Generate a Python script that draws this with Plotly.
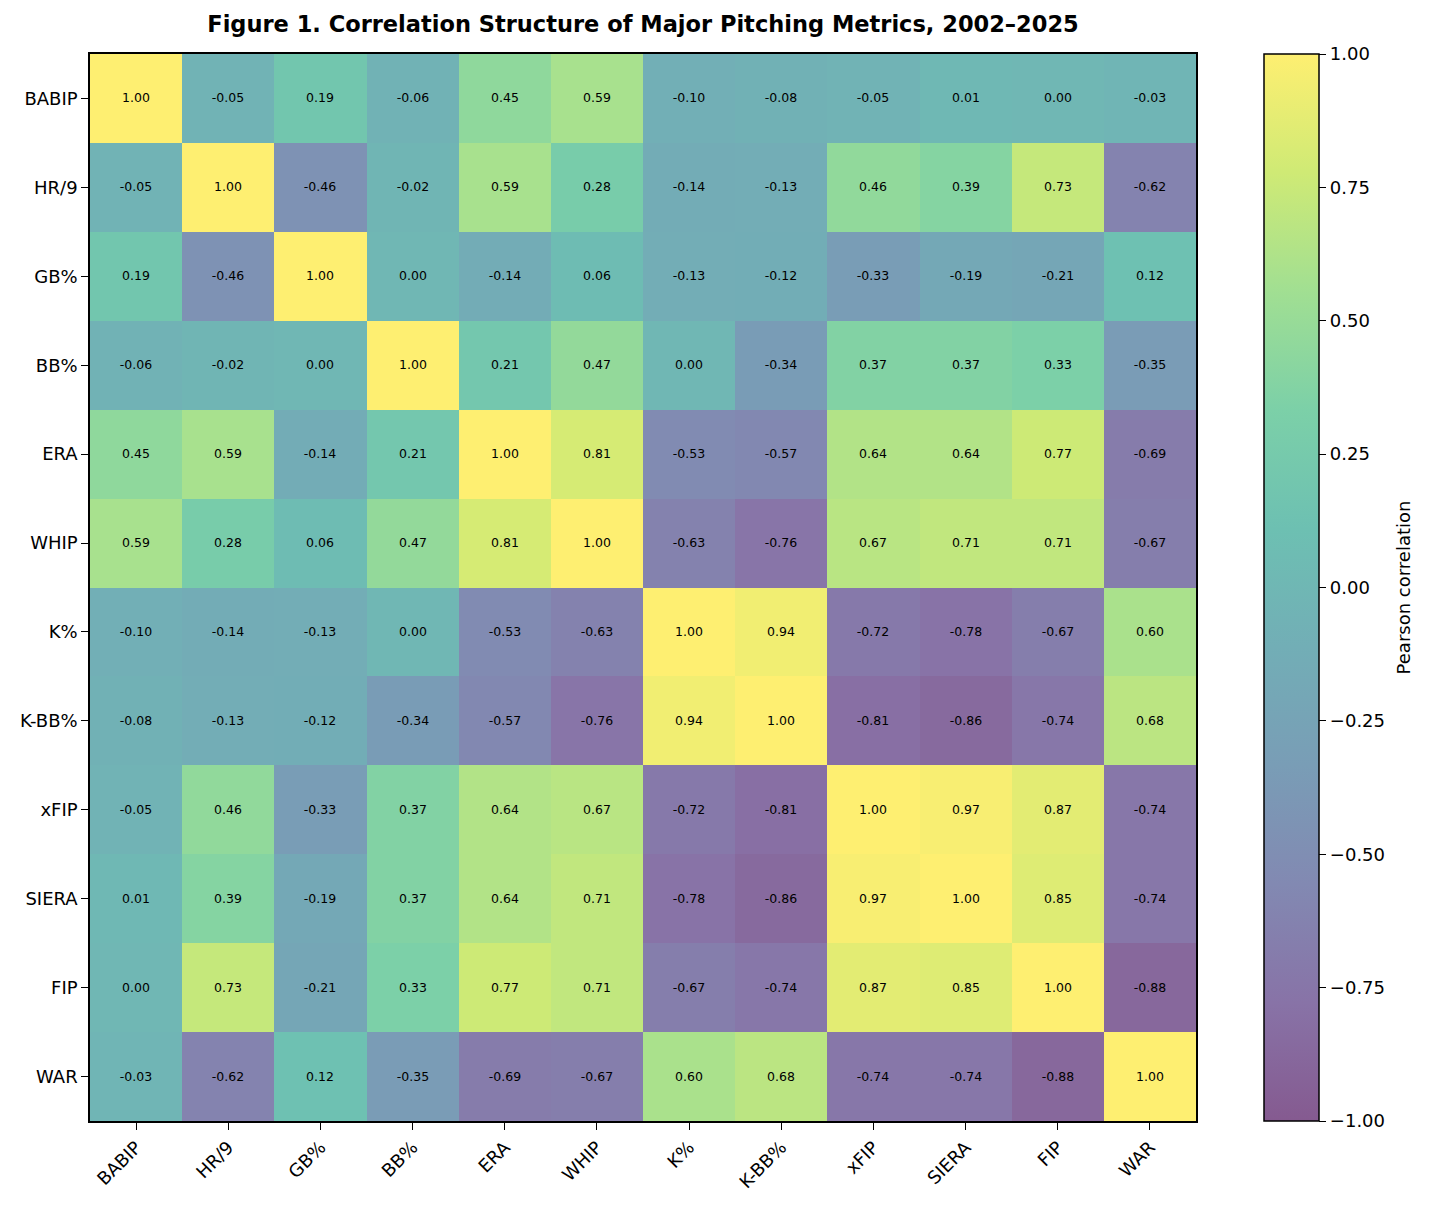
import plotly.graph_objects as go
from plotly.colors import hex_to_rgb

metrics = ["BABIP", "HR/9", "GB%", "BB%", "ERA", "WHIP", "K%", "K-BB%",
           "xFIP", "SIERA", "FIP", "WAR"]

babip = [1.00, -0.05, 0.19, -0.06, 0.45, 0.59, -0.10, -0.08, -0.05, 0.01, 0.00, -0.03]
hr9 = [-0.05, 1.00, -0.46, -0.02, 0.59, 0.28, -0.14, -0.13, 0.46, 0.39, 0.73, -0.62]
gb = [0.19, -0.46, 1.00, 0.00, -0.14, 0.06, -0.13, -0.12, -0.33, -0.19, -0.21, 0.12]
bb = [-0.06, -0.02, 0.00, 1.00, 0.21, 0.47, 0.00, -0.34, 0.37, 0.37, 0.33, -0.35]
era = [0.45, 0.59, -0.14, 0.21, 1.00, 0.81, -0.53, -0.57, 0.64, 0.64, 0.77, -0.69]
whip = [0.59, 0.28, 0.06, 0.47, 0.81, 1.00, -0.63, -0.76, 0.67, 0.71, 0.71, -0.67]
k_pct = [-0.10, -0.14, -0.13, 0.00, -0.53, -0.63, 1.00, 0.94, -0.72, -0.78, -0.67, 0.60]
kbb = [-0.08, -0.13, -0.12, -0.34, -0.57, -0.76, 0.94, 1.00, -0.81, -0.86, -0.74, 0.68]
xfip = [-0.05, 0.46, -0.33, 0.37, 0.64, 0.67, -0.72, -0.81, 1.00, 0.97, 0.87, -0.74]
siera = [0.01, 0.39, -0.19, 0.37, 0.64, 0.71, -0.78, -0.86, 0.97, 1.00, 0.85, -0.74]
fip = [0.00, 0.73, -0.21, 0.33, 0.77, 0.71, -0.67, -0.74, 0.87, 0.85, 1.00, -0.88]
war = [-0.03, -0.62, 0.12, -0.35, -0.69, -0.67, 0.60, 0.68, -0.74, -0.74, -0.88, 1.00]

corr = [babip, hr9, gb, bb, era, whip, k_pct, kbb, xfip, siera, fip, war]
labels = [[f"{v:.2f}" for v in row] for row in corr]

# viridis drawn at alpha 0.65 over white
viridis = ['#440154', '#482878', '#3e4989', '#31688e', '#26828e',
           '#1f9e89', '#35b779', '#6ece58', '#b5de2b', '#fde725']
alpha = 0.65
scale = []
for i, h in enumerate(viridis):
    r, g, b = hex_to_rgb(h)
    mix = [round(alpha * c + (1 - alpha) * 255) for c in (r, g, b)]
    scale.append([i / (len(viridis) - 1), f"rgb({mix[0]},{mix[1]},{mix[2]})"])

fig = go.Figure(go.Heatmap(
    z=corr, x=metrics, y=metrics,
    zmin=-1, zmax=1,
    colorscale=scale,
    text=labels,
    texttemplate="%{text}",
    textfont=dict(size=12.5, color="black"),
    hoverinfo="skip",
    colorbar=dict(
        x=1.0613, xanchor="left", xpad=0,
        y=0.5, yanchor="middle", len=1, lenmode="fraction",
        thickness=55, ypad=0,
        outlinewidth=1.5, outlinecolor="black",
        tick0=-1, dtick=0.25, tickformat=".2f",
        ticks="outside", ticklen=7, tickwidth=1.2, tickcolor="black",
        tickfont=dict(size=18, color="black"),
    ),
))

axis_style = dict(
    showline=True, linewidth=1.5, linecolor="black", mirror=True,
    ticks="outside", ticklen=7, tickwidth=1.2, tickcolor="black",
    tickfont=dict(size=18, color="black"),
    showgrid=False, zeroline=False,
)

fig.update_xaxes(**axis_style, tickangle=-45)
fig.update_yaxes(**axis_style, autorange="reversed")

# colourbar label, placed by hand to sit where the reference has it
fig.add_annotation(
    text="Pearson correlation", textangle=-90,
    x=1.188, y=0.5, xref="paper", yref="paper",
    xanchor="center", yanchor="middle", showarrow=False,
    font=dict(size=18, color="black"),
)

fig.update_layout(
    width=1414, height=1196,
    margin=dict(l=79, r=226, t=46, b=75),
    paper_bgcolor="white", plot_bgcolor="white",
    font=dict(family="DejaVu Sans", color="black"),
    title=dict(
        text="<b>Figure 1. Correlation Structure of Major Pitching Metrics, 2002–2025</b>",
        x=0.5, xref="paper", xanchor="center",
        y=1 - 16 / 1196, yref="container", yanchor="middle",
        font=dict(size=22.5, color="black"),
    ),
)

fig.write_html("out.html")
